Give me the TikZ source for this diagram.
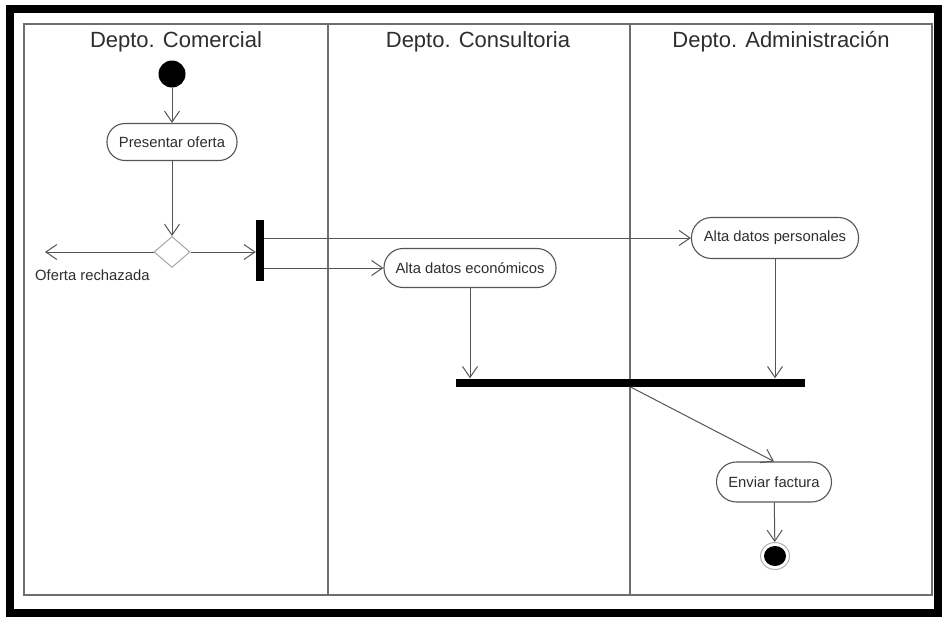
\documentclass[tikz,border=0pt]{standalone}
\usepackage{fontspec}
\setmainfont{Liberation Sans}
\usetikzlibrary{arrows.meta,shapes.geometric}

\definecolor{lanegray}{HTML}{6E6E6E}
\definecolor{edgegray}{HTML}{555555}
\definecolor{txtgray}{HTML}{2E2E2E}

\tikzset{
  lane/.style={draw=lanegray, line width=1.3pt},
  header/.style={font=\fontsize{22}{25}\selectfont, text=txtgray, anchor=center},
  activity/.style={draw=edgegray, line width=1.1pt, rounded corners=18pt, fill=white,
    inner sep=0pt, font=\fontsize{14.8}{16}\selectfont, text=txtgray},
  bar/.style={fill=black, draw=none, inner sep=0pt},
  flow/.style={draw=edgegray, line width=1pt, -{Straight Barb[length=11pt,width=15pt,line width=1pt]}},
}

\begin{document}
\begin{tikzpicture}[x=1pt, y=-1pt]
\useasboundingbox (0,0) rectangle (944,619);
\fill[white] (0,0) rectangle (944,619);

% outer frame
\draw[line width=8pt] (10,9) rectangle (938,613);

% swimlanes
\draw[lane] (24,24) rectangle (932,595);
\draw[lane] (328,24) -- (328,595);
\draw[lane] (630,24) -- (630,595);
\node[header] (h1) at (176,42) {Depto. Comercial};
\node[header] (h2) at (478,42) {Depto. Consultoria};
\node[header] (h3) at (781,42) {Depto. Administración};

% activity nodes
\node[circle, fill=black, minimum size=27pt, inner sep=0pt] (start) at (172,74) {};
\node[activity, minimum width=130pt, minimum height=37pt] (pres) at (172,142) {Presentar oferta};
\node[diamond, draw=gray!70, line width=1pt, fill=white, minimum width=36pt, minimum height=31pt,
      inner sep=0pt, aspect=1.16] (dec) at (172,252) {};
\coordinate (rej) at (45,252);
\node[anchor=west, inner sep=0pt, font=\fontsize{14.8}{16}\selectfont, text=txtgray] (rejlbl) at (35,275) {Oferta rechazada};
\node[bar, minimum width=8pt, minimum height=61pt] (fork) at (260,250.5) {};
\node[activity, minimum width=172pt, minimum height=39pt, rounded corners=19pt] (eco) at (470,268) {Alta datos económicos};
\node[activity, minimum width=167pt, minimum height=41pt, rounded corners=20pt] (per) at (775,238) {Alta datos personales};
\node[bar, minimum width=349pt, minimum height=8pt] (join) at (630,382.5) {};
\node[activity, minimum width=115pt, minimum height=40pt, rounded corners=20pt] (fact) at (774,482) {Enviar factura};
\node[ellipse, draw=gray!60, line width=1pt, fill=white, minimum width=29pt, minimum height=27pt, inner sep=0pt] (end) at (775,556) {};
\fill[black] (end.center) ellipse [x radius=11pt, y radius=10pt];

% control flow
\draw[flow] (start) -- (pres);
\draw[flow] (pres) -- (dec);
\draw[flow] (dec) -- (rej);
\draw[flow] (dec) -- (fork.west |- dec);
\draw[flow] (fork.east |- per.west) -- (per.west);
\draw[flow] (fork.east |- eco.west) -- (eco.west);
\draw[flow] (eco.south) -- (eco.south |- join.north);
\draw[flow] (per.south) -- (per.south |- join.north);
\draw[flow] (join.south) -- (fact.north);
\draw[flow] (fact) -- (end);
\end{tikzpicture}
\end{document}
